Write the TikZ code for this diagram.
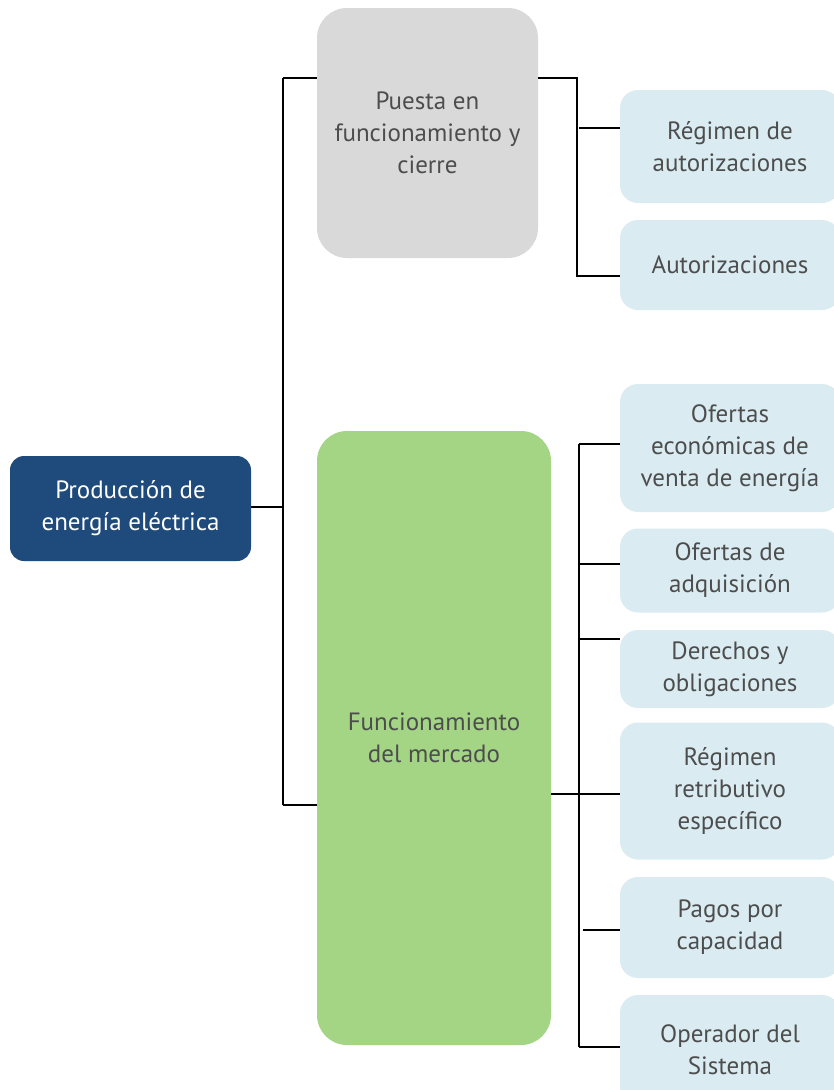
\documentclass[tikz,border=0pt]{standalone}
\usepackage{fontspec}
\setmainfont{PT Sans}
\definecolor{dblue}{HTML}{1F4A7C}
\definecolor{lgray}{HTML}{D9D9D9}
\definecolor{lgreen}{HTML}{A3D585}
\definecolor{lblue}{HTML}{DAECF2}
\definecolor{txt}{HTML}{4D4D4D}
\begin{document}
\begin{tikzpicture}[x=1pt,y=-1pt,
  box/.style={align=center, text=txt, font=\fontsize{25}{32}\selectfont, inner sep=0pt},
  lbl/.style={box, fill=lblue, rounded corners=18pt, minimum width=220pt},
  link/.style={line width=2pt, black}]
\useasboundingbox[fill=white] (0,0) rectangle (833,1090);

\node[box, fill=dblue, text=white, rounded corners=14pt, minimum width=241pt, minimum height=105pt] (prod) at (130.5,508.5) {Producción de\\energía eléctrica};
\node[box, fill=lgray, rounded corners=30pt, minimum width=221pt, minimum height=250pt] (puesta) at (427.5,133) {Puesta en\\funcionamiento y\\cierre};
\node[box, fill=lgreen, rounded corners=30pt, minimum width=234pt, minimum height=614pt] (merc) at (434,738) {Funcionamiento\\del mercado};

\node[lbl, minimum height=113pt] (r1) at (730,146.5) {Régimen de\\autorizaciones};
\node[lbl, minimum height=90pt] (r2) at (730,265) {Autorizaciones};

\node[lbl, minimum height=128pt] (o1) at (730,448) {Ofertas\\económicas de\\venta de energía};
\node[lbl, minimum height=84pt] (o2) at (730,570.5) {Ofertas de\\adquisición};
\node[lbl, minimum height=78pt] (o3) at (730,669) {Derechos y\\obligaciones};
\node[lbl, minimum height=137pt] (o4) at (730,791) {Régimen\\retributivo\\específico};
\node[lbl, minimum height=101pt] (o5) at (730,927.5) {Pagos por\\capacidad};
\node[lbl, minimum height=110pt] (o6) at (730,1050) {Operador del\\Sistema};

% left trunk
\coordinate (a) at (283,507);
\coordinate (at) at (283,78);
\coordinate (ab) at (283,805);
\draw[link] (prod.east |- a) -- (a);
\draw[link] (at) -- (ab);
\draw[link] (at) -- (at -| puesta.west);
\draw[link] (ab) -- (ab -| merc.west);

% upper right
\coordinate (b) at (577,78);
\coordinate (bb) at (577,276);
\coordinate (bm) at (579,128);
\draw[link] (puesta.east |- b) -- (b) -- (bb) -- (bb -| r2.west);
\draw[link] (bm) -- (bm -| r1.west);

% lower right
\coordinate (c1) at (579,444);
\coordinate (c2) at (579,564);
\coordinate (c3) at (579,639);
\coordinate (c4) at (579,794);
\coordinate (c5) at (583,930);
\coordinate (c6) at (579,1047);
\draw[link] (c1) -- (c6);
\draw[link] (c1) -- (c1 -| o1.west);
\draw[link] (c2) -- (c2 -| o2.west);
\draw[link] (c3) -- (c3 -| o3.west);
\draw[link] (merc.east |- c4) -- (c4 -| o4.west);
\draw[link] (c5) -- (c5 -| o5.west);
\draw[link] (c6) -- (c6 -| o6.west);
\end{tikzpicture}
\end{document}
